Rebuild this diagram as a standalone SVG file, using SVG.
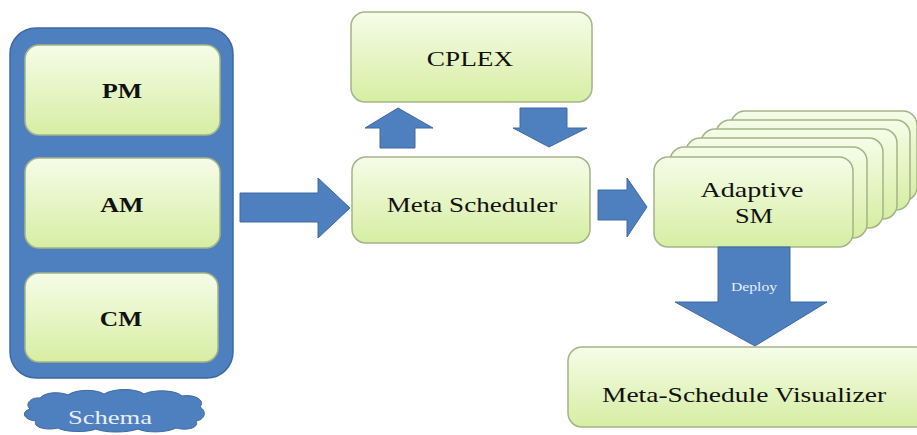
<svg xmlns="http://www.w3.org/2000/svg" width="917" height="435" viewBox="0 0 917 435">
<defs>
<linearGradient id="g" x1="0" y1="0" x2="0" y2="1">
<stop offset="0" stop-color="#f6fce8"/>
<stop offset="1" stop-color="#d6eea3"/>
</linearGradient>
<style>
.box{fill:url(#g);stroke:#a4b487;stroke-width:1.5}
.blue{fill:#4e7fbe;stroke:#3e6aa3;stroke-width:1}
.t{font-family:"Liberation Serif",serif;fill:#111;text-anchor:middle}
.b{font-weight:bold}
.w{font-family:"Liberation Serif",serif;fill:#e8eef8;text-anchor:middle}
</style>
</defs>
<rect width="917" height="435" fill="#ffffff"/>

<g id="container">
<rect x="10" y="28" width="223" height="350" rx="26" fill="#4e7fbe" stroke="#3e6aa3" stroke-width="1.5"/>
</g>
<g id="pm">
<rect class="box" x="25" y="45" width="195" height="90" rx="14"/>
<text class="t b" transform="translate(122 98) scale(1.29 1)" font-size="20">PM</text>
</g>
<g id="am">
<rect class="box" x="25" y="158" width="195" height="90" rx="14"/>
<text class="t b" transform="translate(122 212) scale(1.3 1)" font-size="20">AM</text>
</g>
<g id="cm">
<rect class="box" x="25" y="273" width="193" height="89" rx="14"/>
<text class="t b" transform="translate(121 326) scale(1.27 1)" font-size="20">CM</text>
</g>

<g id="schema">
<path class="blue" d="M40,398 C46,391 62,392 68,395 C76,389 96,389 104,394 C114,388 136,388 144,394 C154,389 176,390 182,396 C194,394 206,400 200,407 C208,412 204,420 196,421 C200,428 186,431 176,428 C166,433 146,433 138,429 C128,433 104,433 96,429 C86,433 64,432 58,428 C46,431 32,427 36,421 C24,420 20,412 30,409 C24,403 32,397 40,398 Z"/>
<text class="w" transform="translate(110 424) scale(1.4 1)" font-size="19">Schema</text>
</g>

<g id="cplex">
<rect class="box" x="351" y="12" width="241" height="90" rx="14"/>
<text class="t" transform="translate(470 66) scale(1.3 1)" font-size="21">CPLEX</text>
</g>
<g id="meta-scheduler">
<rect class="box" x="352" y="157" width="238" height="86" rx="14"/>
<text class="t" transform="translate(472 212) scale(1.23 1)" font-size="22">Meta Scheduler</text>
</g>

<g id="adaptive-sm">
<rect class="box" x="731" y="111" width="186" height="90" rx="14"/>
<rect class="box" x="716" y="120" width="194" height="90" rx="14"/>
<rect class="box" x="701" y="129" width="196" height="90" rx="14"/>
<rect class="box" x="686" y="138" width="197" height="90" rx="14"/>
<rect class="box" x="670" y="147" width="197" height="91" rx="14"/>
<rect class="box" x="654" y="157" width="199" height="90" rx="14"/>
<text class="t" transform="translate(752 197) scale(1.28 1)" font-size="22">Adaptive</text>
<text class="t" transform="translate(754 223) scale(1.2 1)" font-size="22">SM</text>
</g>

<g id="visualizer">
<rect class="box" x="568" y="347" width="365" height="80" rx="14"/>
<text class="t" transform="translate(744 402) scale(1.25 1)" font-size="22">Meta-Schedule Visualizer</text>
</g>

<g id="connectors">
<polygon class="blue" points="240,193 318,193 318,178 350,208 318,238 318,222 240,222"/>
<polygon class="blue" points="380,148 380,128 365,128 398,108 433,128 415,128 415,148"/>
<polygon class="blue" points="520,108 567,108 567,128 587,128 549,147 513,128 520,128"/>
<polygon class="blue" points="598,190 627,190 627,178 647,207 627,237 627,220 598,220"/>
<polygon class="blue" points="718,247 790,247 790,302 827,302 755,346 675,302 718,302"/>
<text class="w" transform="translate(754 291) scale(1.31 1)" font-size="12">Deploy</text>
</g>
</svg>
